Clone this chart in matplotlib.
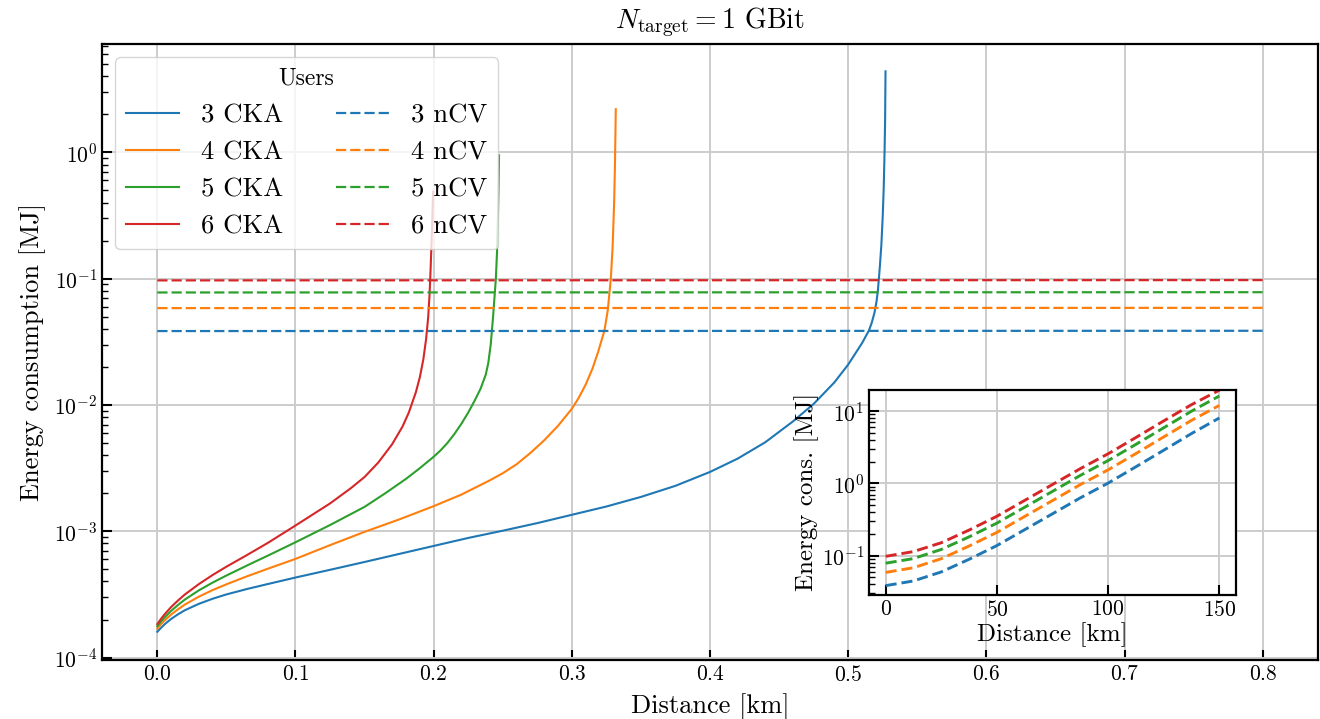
import matplotlib
matplotlib.use("Agg")
import matplotlib.pyplot as plt

plt.rcParams.update({
    "font.family": "cmr10",
    "mathtext.fontset": "cm",
    "axes.formatter.use_mathtext": True,
    "axes.unicode_minus": False,
})

colors = ["#1f77b4", "#ff7f0e", "#2ca02c", "#d62728"]
users = [3, 4, 5, 6]

# CKA energy consumption vs. distance (km -> MJ)
cka_x = [
    [0, 0.0025, 0.005, 0.0075, 0.01, 0.015, 0.02, 0.03, 0.04, 0.05,
     0.065, 0.08, 0.1, 0.125, 0.15, 0.175, 0.2, 0.225, 0.25, 0.275,
     0.3, 0.325, 0.35, 0.375, 0.4, 0.42, 0.44, 0.46, 0.475, 0.49,
     0.5, 0.51, 0.515, 0.517, 0.519, 0.5205, 0.5215, 0.5222, 0.523, 0.524,
     0.525, 0.5257, 0.5263, 0.5267, 0.527],
    [0, 0.0025, 0.005, 0.0075, 0.01, 0.015, 0.02, 0.03, 0.04, 0.05,
     0.065, 0.08, 0.1, 0.125, 0.15, 0.175, 0.2, 0.22, 0.24, 0.25,
     0.26, 0.27, 0.28, 0.29, 0.3, 0.305, 0.31, 0.315, 0.319, 0.3236,
     0.326, 0.3282, 0.3295, 0.3306, 0.3312, 0.3318],
    [0, 0.0025, 0.005, 0.0075, 0.01, 0.015, 0.02, 0.03, 0.04, 0.05,
     0.065, 0.08, 0.1, 0.125, 0.15, 0.165, 0.18, 0.19, 0.2, 0.205,
     0.21, 0.215, 0.22, 0.225, 0.23, 0.234, 0.2377, 0.2395, 0.2413, 0.243,
     0.245, 0.2458, 0.2465, 0.247, 0.2473],
    [0, 0.0025, 0.005, 0.0075, 0.01, 0.015, 0.02, 0.03, 0.04, 0.05,
     0.065, 0.08, 0.1, 0.125, 0.14, 0.15, 0.16, 0.17, 0.1775, 0.182,
     0.1871, 0.19, 0.1925, 0.1945, 0.196, 0.197, 0.1978, 0.1985, 0.1991,
     0.1996],
]
cka_y = [
    [1.60e-4, 1.71e-4, 1.82e-4, 1.92e-4, 2.02e-4, 2.20e-4, 2.37e-4, 2.66e-4,
     2.92e-4, 3.16e-4, 3.49e-4, 3.82e-4, 4.30e-4, 4.95e-4, 5.71e-4, 6.61e-4,
     7.65e-4, 8.85e-4, 1.01e-3, 1.16e-3, 1.35e-3, 1.57e-3, 1.87e-3, 2.29e-3,
     2.95e-3, 3.76e-3, 5.07e-3, 7.41e-3, 1.02e-2, 1.51e-2, 2.09e-2, 3.09e-2,
     3.89e-2, 4.47e-2, 5.37e-2, 6.61e-2, 8.13e-2, 0.1, 0.129, 0.186,
     0.316, 0.525, 1.0, 1.78, 4.39],
    [1.69e-4, 1.83e-4, 1.95e-4, 2.07e-4, 2.19e-4, 2.41e-4, 2.63e-4, 3.03e-4,
     3.42e-4, 3.80e-4, 4.40e-4, 5.05e-4, 6.04e-4, 7.76e-4, 9.89e-4, 1.24e-3,
     1.58e-3, 1.95e-3, 2.51e-3, 2.88e-3, 3.39e-3, 4.17e-3, 5.25e-3, 6.84e-3,
     9.33e-3, 1.14e-2, 1.45e-2, 1.95e-2, 2.63e-2, 3.89e-2, 5.62e-2, 0.1,
     0.178, 0.398, 0.794, 2.2],
    [1.77e-4, 1.92e-4, 2.06e-4, 2.20e-4, 2.34e-4, 2.61e-4, 2.88e-4, 3.40e-4,
     3.92e-4, 4.46e-4, 5.36e-4, 6.41e-4, 8.18e-4, 1.12e-3, 1.56e-3, 2.00e-3,
     2.60e-3, 3.16e-3, 3.89e-3, 4.37e-3, 5.01e-3, 5.89e-3, 7.08e-3, 8.71e-3,
     1.10e-2, 1.35e-2, 1.74e-2, 2.14e-2, 3.02e-2, 5.01e-2, 0.1, 0.158,
     0.302, 0.55, 0.95],
    [1.84e-4, 2.01e-4, 2.18e-4, 2.34e-4, 2.51e-4, 2.83e-4, 3.16e-4, 3.81e-4,
     4.50e-4, 5.24e-4, 6.49e-4, 8.09e-4, 1.11e-3, 1.66e-3, 2.19e-3, 2.69e-3,
     3.51e-3, 4.90e-3, 6.76e-3, 8.71e-3, 1.26e-2, 1.66e-2, 2.29e-2, 3.31e-2,
     4.90e-2, 7.41e-2, 0.120, 0.20, 0.316, 0.49],
]

# nCV energy consumption over the short-distance range
ncv_x = [0.0, 0.8]
ncv_y = [
    [0.0385, 0.0387],
    [0.0585, 0.0588],
    [0.0778, 0.0782],
    [0.0970, 0.0975],
]

# nCV energy consumption over long distances (inset)
inset_x = [0, 12.5, 25, 37.5, 50, 62.5, 75, 87.5, 100, 112.5, 125, 137.5, 150]
inset_y = [
    [0.0385, 0.0447, 0.0596, 0.0891, 0.138, 0.229, 0.380, 0.631, 1.01, 1.70,
     2.88, 4.90, 8.05],
    [0.0587, 0.0681, 0.0908, 0.136, 0.210, 0.349, 0.579, 0.962, 1.54, 2.59,
     4.40, 7.46, 12.0],
    [0.0787, 0.0912, 0.122, 0.182, 0.282, 0.468, 0.776, 1.29, 2.07, 3.47,
     5.89, 10.0, 16.2],
    [0.0979, 0.114, 0.151, 0.226, 0.351, 0.582, 0.966, 1.60, 2.57, 4.32,
     7.33, 12.3, 19.5],
]

fig = plt.figure(figsize=(13.2, 7.19), dpi=100)
ax = fig.add_axes([0.0773, 0.082, 0.9212, 0.857])

for n, c, xs, ys in zip(users, colors, cka_x, cka_y):
    ax.plot(xs, ys, color=c, lw=1.5, label=f"{n} CKA")
for n, c, ys in zip(users, colors, ncv_y):
    ax.plot(ncv_x, ys, color=c, lw=1.6, ls="--", dashes=(4.6, 1.8),
            label=f"{n} nCV")

ax.set_yscale("log")
ax.set_xlim(-0.04, 0.84)
ax.set_ylim(10 ** -4.02, 10 ** 0.86)
ax.set_xticks([0.0, 0.1, 0.2, 0.3, 0.4, 0.5, 0.6, 0.7, 0.8])
ax.grid(True, which="major", color="0.8", lw=1.4)
ax.set_axisbelow(True)
ax.set_xlabel("Distance [km]", fontsize=19, labelpad=6)
ax.set_ylabel("Energy consumption [MJ]", fontsize=19, labelpad=6)
ax.set_title(r"$N_{\rm target} = 1$ GBit", fontsize=20, pad=11)
ax.tick_params(which="both", direction="in", labelsize=15.5)
ax.tick_params(which="major", length=7, width=1.5)
ax.tick_params(which="minor", length=4, width=1.0)
for s in ax.spines.values():
    s.set_linewidth(1.6)

leg = ax.legend(loc="upper left", ncol=2, title="Users", fontsize=19.2,
                title_fontsize=17, handlelength=2.0, columnspacing=2.0)

# Inset: nCV over long distances
axi = fig.add_axes([0.6583, 0.1725, 0.2781, 0.2855])
for c, ys in zip(colors, inset_y):
    axi.plot(inset_x, ys, color=c, lw=2.1, ls="--", dashes=(3.8, 1.7))
axi.set_yscale("log")
axi.set_xlim(-7.5, 157.5)
axi.set_ylim(0.0286, 19.8)
axi.set_xticks([0, 50, 100, 150])
axi.grid(True, which="major", color="0.8", lw=1.4)
axi.set_axisbelow(True)
axi.set_xlabel("Distance [km]", fontsize=18, labelpad=2)
axi.set_ylabel("Energy cons. [MJ]", fontsize=18, labelpad=2)
axi.tick_params(which="both", direction="in", labelsize=15.5)
axi.tick_params(which="major", length=7, width=1.5)
axi.tick_params(which="minor", length=4, width=1.0)
for s in axi.spines.values():
    s.set_linewidth(1.6)

fig.savefig("out.png", dpi=100)
